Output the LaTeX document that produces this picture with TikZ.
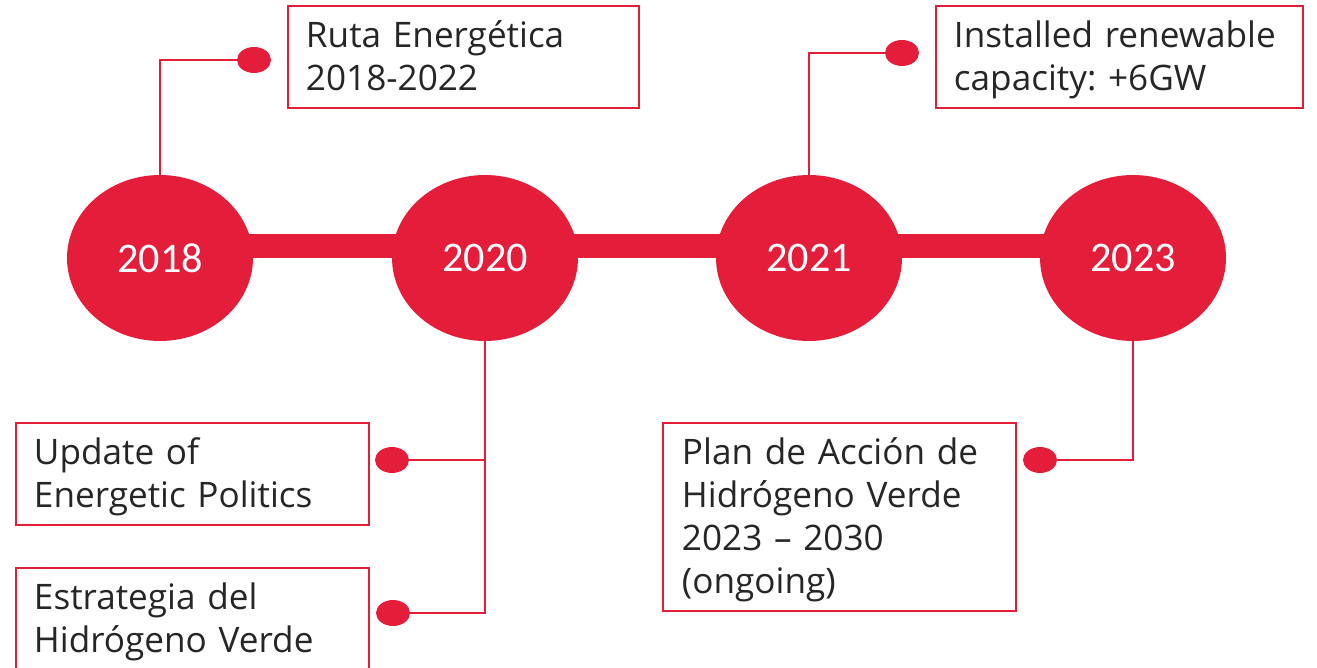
\documentclass[tikz,border=0pt]{standalone}
\usepackage{fontspec}
\setmainfont{Open Sans}
\newfontfamily\yearfont{Carlito}
\usetikzlibrary{shapes.geometric, backgrounds}
\frenchspacing

\definecolor{tlred}{RGB}{228,30,58}
\definecolor{tltext}{RGB}{38,38,38}
\newcommand{\topstrut}{\rule{0pt}{0.7cm}}
\newcommand{\botstrut}{\rule[-0.2cm]{0pt}{0pt}}

\begin{document}
\begin{tikzpicture}[
  x=0.02cm, y=-0.02cm,
  year/.style = {
    ellipse,
    fill=tlred,
    minimum width=3.72cm,
    minimum height=3.32cm,
    inner sep=0pt,
    text=white,
    font=\yearfont\fontsize{24}{27}\selectfont
  },
  dot/.style = {
    ellipse,
    fill=tlred,
    minimum width=0.68cm,
    minimum height=0.52cm,
    inner sep=0pt
  },
  infobox/.style = {
    draw=tlred,
    line width=1.1pt,
    anchor=north west,
    align=left,
    inner xsep=0.36cm,
    inner ysep=0.14cm,
    text=tltext,
    font=\fontsize{20}{24.4}\selectfont
  },
  bar/.style = {
    tlred,
    line width=13.6pt
  },
  link/.style = {
    tlred,
    line width=1.6pt
  }
]
\useasboundingbox (0,0) rectangle (1317,668);

\node[year] (y2018) at (160,258) {2018};
\node[year] (y2020) at (485,258) {2020};
\node[year] (y2021) at (809,258) {2021};
\node[year] (y2023) at (1133,258) {2023};

\node[dot] (d2018) at (254,60) {};
\node[dot] (d2021) at (902,53) {};
\node[dot] (d2020a) at (392,460) {};
\node[dot] (d2020b) at (393,613) {};
\node[dot] (d2023) at (1040,460) {};

\node[infobox, text width=6.3cm] (b2018) at (287,5) {%
  \topstrut Ruta Energética\\
  2018-2022\botstrut
};
\node[infobox, text width=6.62cm] (b2021) at (935,5) {%
  \topstrut Installed renewable\\
  capacity: +6GW\botstrut
};
\node[infobox, text width=6.34cm] (b2020a) at (15,422) {%
  \topstrut Update of\\
  Energetic Politics\botstrut
};
\node[infobox, text width=6.34cm] (b2020b) at (15,567) {%
  \topstrut Estrategia del\\
  Hidrógeno Verde\botstrut
};
\node[infobox, text width=6.3cm, inner xsep=0.38cm] (b2023) at (662,422) {%
  \topstrut Plan de Acción de\\
  Hidrógeno Verde\\
  2023 -- 2030\\
  (ongoing)\botstrut
};

\begin{scope}[on background layer]
  \draw[bar] ([yshift=0.24cm]y2018.center) -- ([yshift=0.24cm]y2023.center);
  \draw[link] (y2018.north) |- (d2018);
  \draw[link] (y2021.north) |- (d2021);
  \draw[link] (y2020.south) |- (d2020a);
  \draw[link] (y2020.south) |- (d2020b);
  \draw[link] (y2023.south) |- (d2023);
\end{scope}

\end{tikzpicture}
\end{document}
